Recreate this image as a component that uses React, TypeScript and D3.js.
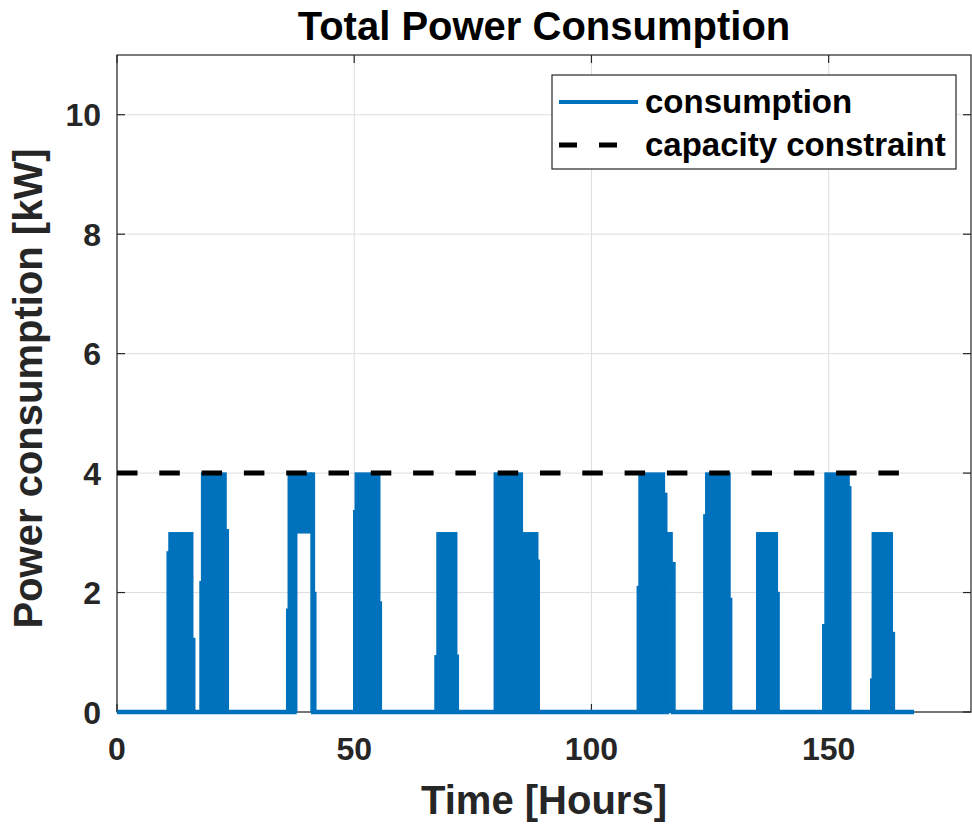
import React from 'react';
import * as d3 from 'd3';

const xTicks = [0, 50, 100, 150];
const yTicks = [0, 2, 4, 6, 8, 10];
const timeEnd = 168;
const capacity = 4;

// envelope of the switching signal: start hour, end hour, lower kW, upper kW
const segStart = [10.58, 10.96, 15.96, 17.5, 17.84, 22.98, 35.77, 36.1, 37.88, 40.9, 41.6, 49.9, 50.23, 55.38, 67.03, 67.45, 71.6, 79.53, 85.43, 88.68, 109.67, 110.03, 115.37, 115.87, 116.42, 116.72, 117.0, 123.7, 124.1, 129.2, 134.84, 139.18, 148.76, 149.24, 154.3, 158.87, 159.2, 163.4];
const segEnd = [10.96, 15.96, 16.38, 17.84, 22.98, 23.46, 36.1, 37.88, 40.9, 41.6, 41.9, 50.23, 55.38, 55.71, 67.45, 71.6, 71.94, 85.43, 88.68, 89.0, 110.03, 115.37, 115.87, 116.42, 116.72, 117.0, 117.6, 124.1, 129.2, 129.55, 139.18, 139.55, 149.24, 154.3, 154.65, 159.2, 163.4, 163.85];
const segLow = [0, 0, 0, 0, 0, 0, 0, 0, 3, 0, 0, 0, 0, 0, 0, 0, 0, 0, 0, 0, 0, 0, 0, 0, 2.2, 0, 0, 0, 0, 0, 0, 0, 0, 0, 0, 0, 0, 0];
const segHigh = [2.68, 3, 1.23, 2.18, 4, 3.05, 1.72, 4, 4, 4, 2.0, 3.37, 4, 1.84, 0.94, 3, 0.95, 4, 3, 2.54, 2.1, 4, 3.66, 3, 3, 3, 2.5, 3.3, 4, 1.9, 3, 2.0, 1.46, 4, 3.77, 0.55, 3, 1.33];

const W = 972;
const H = 825;
const plot = { left: 117, right: 971, top: 55, bottom: 712 };
const blue = '#0072BD';
const axisColor = '#262626';
const font = '"Liberation Sans", Arial, Helvetica, sans-serif';

export default function App() {
  const x = d3.scaleLinear().domain([0, 180]).range([plot.left, plot.right]);
  const y = d3.scaleLinear().domain([0, 11]).range([plot.bottom, plot.top]);

  const segs = segStart.map((s, i) => ({ s, e: segEnd[i], lo: segLow[i], hi: segHigh[i] }));

  // baseline of the signal at 0, broken where the signal never drops to zero
  const basePts: [number, number][] = [[0, 0]];
  segs.forEach(d => { basePts.push([d.s, d.lo]); basePts.push([d.e, d.lo]); });
  basePts.push([timeEnd, 0]);
  const baseLine = d3.line<[number, number]>()
    .defined(d => d[1] === 0)
    .x(d => x(d[0]))
    .y(d => y(d[1]));

  const capLine = d3.line<number>().x(d => x(d)).y(() => y(capacity));

  const tickLen = 8;

  return (
    <svg width={W} height={H} style={{ position: 'absolute', left: 0, top: 0, background: '#fff' }} fontFamily={font}>
      <rect x={0} y={0} width={W} height={H} fill="#fff" />
      <text x={(plot.left + plot.right) / 2} y={40} textAnchor="middle" fontSize={40} fontWeight="bold" fill="#000">Total Power Consumption</text>

      {/* grid */}
      {xTicks.map(t => (
        <line key={'gx' + t} x1={x(t)} x2={x(t)} y1={plot.top} y2={plot.bottom} stroke="#dedede" strokeWidth={1} />
      ))}
      {yTicks.map(t => (
        <line key={'gy' + t} x1={plot.left} x2={plot.right} y1={y(t)} y2={y(t)} stroke="#dedede" strokeWidth={1} />
      ))}

      {/* axes box and ticks */}
      <rect x={plot.left} y={plot.top} width={plot.right - plot.left} height={plot.bottom - plot.top} fill="none" stroke={axisColor} strokeWidth={1.2} />
      {xTicks.map(t => (
        <g key={'tx' + t}>
          <line x1={x(t)} x2={x(t)} y1={plot.bottom} y2={plot.bottom - tickLen} stroke={axisColor} strokeWidth={1.2} />
          <line x1={x(t)} x2={x(t)} y1={plot.top} y2={plot.top + tickLen} stroke={axisColor} strokeWidth={1.2} />
        </g>
      ))}
      {yTicks.map(t => (
        <g key={'ty' + t}>
          <line x1={plot.left} x2={plot.left + tickLen} y1={y(t)} y2={y(t)} stroke={axisColor} strokeWidth={1.2} />
          <line x1={plot.right} x2={plot.right - tickLen} y1={y(t)} y2={y(t)} stroke={axisColor} strokeWidth={1.2} />
        </g>
      ))}

      {/* consumption */}
      {segs.map((d, i) => (
        <rect key={'s' + i} x={x(d.s)} y={y(d.hi)} width={x(d.e) - x(d.s)} height={y(d.lo) - y(d.hi)}
          fill={blue} stroke={blue} strokeWidth={1.5} />
      ))}
      <path d={baseLine(basePts) || ''} fill="none" stroke={blue} strokeWidth={4.5} />

      {/* capacity constraint */}
      <path d={capLine([0, timeEnd]) || ''} fill="none" stroke="#000" strokeWidth={5} strokeDasharray="20.5 21.8" />

      {/* tick labels */}
      {xTicks.map(t => (
        <text key={'lx' + t} x={x(t)} y={760} textAnchor="middle" fontSize={32} fontWeight="bold" fill={axisColor}>{t}</text>
      ))}
      {yTicks.map(t => (
        <text key={'ly' + t} x={plot.left - 16} y={y(t)} dy="0.36em" textAnchor="end" fontSize={32} fontWeight="bold" fill={axisColor}>{t}</text>
      ))}

      {/* axis labels */}
      <text x={(plot.left + plot.right) / 2} y={814} textAnchor="middle" fontSize={40} fontWeight="bold" fill={axisColor}>Time [Hours]</text>
      <text transform={`translate(42,${(plot.top + plot.bottom) / 2 + 5}) rotate(-90)`} textAnchor="middle" fontSize={40} fontWeight="bold" fill={axisColor}>Power consumption [kW]</text>

      {/* legend */}
      <g>
        <rect x={552} y={75} width={404} height={94} fill="#fff" stroke={axisColor} strokeWidth={1.2} />
        <line x1={559} x2={638} y1={102} y2={102} stroke={blue} strokeWidth={4} />
        <text x={645} y={113} fontSize={33} fontWeight="bold" fill="#000">consumption</text>
        <line x1={559} x2={638} y1={145} y2={145} stroke="#000" strokeWidth={5} strokeDasharray="18 22" />
        <text x={645} y={156} fontSize={33} fontWeight="bold" fill="#000">capacity constraint</text>
      </g>
    </svg>
  );
}
